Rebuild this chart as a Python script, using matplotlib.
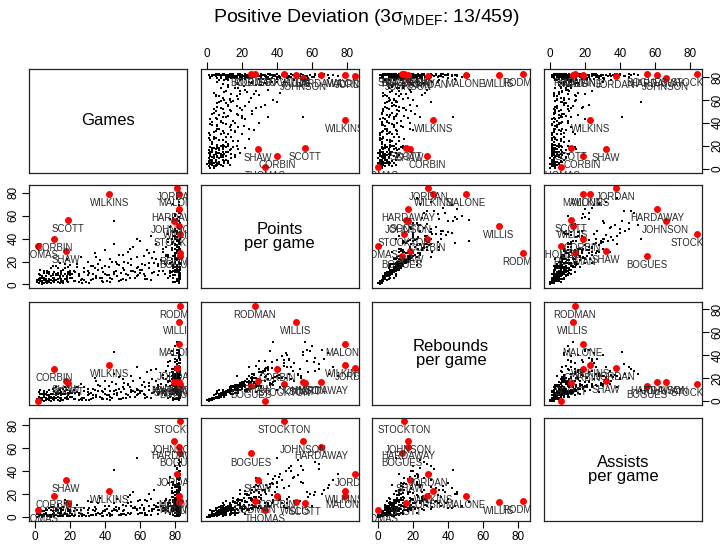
import matplotlib
matplotlib.use("Agg")
import matplotlib.pyplot as plt
from matplotlib.transforms import offset_copy

plt.rcParams['font.family'] = ['Liberation Sans', 'DejaVu Sans']
plt.rcParams['mathtext.fontset'] = 'custom'
plt.rcParams['mathtext.rm'] = 'Liberation Sans'
plt.rcParams['mathtext.it'] = 'Liberation Sans:italic'

var_names = ['Games', 'Points\nper game', 'Rebounds\nper game', 'Assists\nper game']
ticks = [0, 20, 40, 60, 80]

# regular players (black dots), one entry per player in each list
games = [1, 2, 2, 3, 3, 4, 4, 5, 5, 6,
         6, 7, 7, 8, 8, 9, 9, 10, 10, 11,
         11, 12, 12, 13, 13, 14, 14, 15, 15, 16,
         16, 17, 17, 18, 18, 19, 19, 20, 20, 1,
         2, 3, 4, 5, 6, 7, 8, 9, 10, 12,
         13, 14, 15, 16, 17, 18, 19, 20, 3, 5,
         7, 9, 11, 13, 15, 17, 19, 4, 8, 12,
         6, 10, 14, 18, 2, 4, 11, 16, 20, 15,
         21, 22, 23, 24, 25, 26, 27, 28, 29, 30,
         31, 32, 33, 34, 35, 36, 37, 38, 39, 40,
         41, 42, 43, 44, 45, 46, 47, 48, 49, 50,
         51, 52, 53, 54, 55, 56, 57, 58, 59, 60,
         61, 62, 63, 64, 65, 66, 67, 68, 69, 70,
         22, 25, 28, 31, 34, 37, 40, 43, 46, 49,
         52, 55, 58, 61, 64, 67, 70, 24, 27, 30,
         33, 36, 39, 42, 45, 48, 51, 54, 57, 60,
         63, 66, 69, 21, 26, 32, 38, 44, 50, 56,
         62, 65, 68, 35, 41, 47, 53, 59, 58, 45,
         82, 81, 80, 79, 83, 82, 78, 77, 81, 80,
         82, 83, 76, 75, 82, 81, 80, 79, 78, 82,
         83, 82, 81, 80, 79, 78, 77, 76, 74, 73,
         72, 71, 82, 81, 83, 80, 82, 79, 81, 82,
         80, 82, 83, 81, 78, 82, 80, 79, 83, 81,
         82, 81, 82, 80, 83, 77, 82, 81, 79, 82,
         83, 82, 81, 80, 82, 78, 76, 82, 81, 80,
         82, 83, 79, 81, 82, 77, 83, 80, 81, 82,
         74, 75, 76, 82, 83, 81, 80, 82, 78, 79,
         81, 82, 80, 83, 82, 81, 79, 82, 80, 83,
         70, 73, 77, 81, 82, 83, 80, 79, 82, 81,
         82, 80, 81, 83, 78, 82, 81, 80, 82, 79,
         83, 82, 81, 80, 82, 83, 78, 81, 82, 80,
         82, 81, 83, 80, 79, 82, 81, 83, 82, 80,
         75, 77, 79, 81, 83, 76, 78, 80, 82, 83,
         82, 81, 83, 80, 82, 81, 83, 82, 80, 81,
         83, 82, 80, 81, 82, 79, 83, 81, 82, 80,
         81, 82, 83, 80, 82, 81, 79, 83, 82, 81,
         3, 8, 13, 18, 23, 28, 33, 38, 43, 48,
         53, 58, 63, 68, 73, 76, 5, 10, 15, 20,
         25, 30, 35, 40, 45, 50, 55, 60, 65, 70]
points = [2, 5, 1, 8, 3, 0, 6, 4, 10, 2,
          7, 3, 12, 5, 9, 1, 14, 6, 3, 11,
          4, 8, 16, 2, 10, 6, 19, 3, 12, 7,
          13, 5, 9, 22, 4, 11, 15, 8, 6, 4,
          9, 6, 3, 12, 5, 10, 2, 7, 16, 4,
          14, 1, 9, 3, 18, 7, 2, 12, 13, 1,
          1, 4, 2, 5, 5, 14, 9, 7, 11, 9,
          3, 8, 7, 3, 4, 2, 6, 1, 17, 11,
          6, 12, 3, 18, 9, 24, 5, 14, 2, 20,
          10, 4, 16, 27, 7, 13, 21, 3, 11, 30,
          8, 15, 22, 5, 35, 12, 18, 26, 4, 14,
          20, 9, 28, 6, 17, 33, 11, 24, 15, 38,
          13, 25, 7, 30, 19, 42, 10, 28, 22, 16,
          3, 7, 11, 1, 14, 6, 9, 2, 20, 10,
          4, 12, 7, 18, 5, 23, 8, 15, 1, 8,
          5, 18, 2, 8, 11, 3, 13, 31, 6, 10,
          17, 4, 35, 9, 4, 16, 6, 20, 26, 12,
          9, 14, 11, 24, 3, 7, 19, 8, 40, 55,
          45, 30, 12, 58, 22, 8, 36, 50, 17, 27,
          62, 15, 40, 25, 33, 5, 48, 70, 20, 38,
          10, 55, 28, 42, 14, 35, 7, 24, 18, 31,
          21, 12, 66, 3, 44, 26, 52, 16, 39, 9,
          60, 29, 19, 47, 11, 72, 23, 37, 6, 53,
          32, 64, 13, 41, 25, 57, 4, 34, 46, 18,
          40, 22, 75, 15, 49, 30, 44, 8, 27, 35,
          20, 54, 2, 28, 43, 12, 67, 31, 16, 59,
          9, 26, 37, 24, 14, 41, 11, 50, 22, 6,
          45, 36, 19, 62, 7, 33, 54, 28, 13, 48,
          16, 28, 10, 56, 39, 18, 23, 42, 3, 30,
          25, 47, 14, 35, 32, 64, 21, 8, 43, 17,
          52, 11, 38, 26, 69, 5, 30, 44, 19, 34,
          15, 57, 27, 40, 12, 23, 47, 9, 31, 61,
          33, 19, 25, 13, 46, 6, 40, 22, 37, 28,
          4, 11, 7, 19, 26, 15, 9, 33, 2, 21,
          13, 6, 24, 17, 29, 8, 36, 3, 12, 20,
          38, 18, 5, 27, 10, 23, 14, 31, 1, 46,
          5, 3, 8, 6, 11, 4, 9, 14, 6, 17,
          8, 14, 5, 19, 12, 26, 6, 9, 2, 10,
          2, 12, 6, 16, 9, 5, 22, 13, 27, 18]
rebounds = [1, 4, 0, 6, 2, 1, 3, 5, 7, 1,
            3, 2, 8, 4, 10, 0, 6, 3, 2, 9,
            2, 5, 12, 1, 4, 7, 10, 2, 8, 6,
            11, 3, 6, 14, 2, 5, 13, 4, 9, 2,
            8, 3, 2, 9, 6, 5, 1, 4, 11, 3,
            6, 0, 7, 1, 9, 10, 2, 8, 10, 0,
            2, 3, 1, 4, 3, 12, 7, 6, 5, 7,
            2, 6, 3, 3, 2, 2, 4, 1, 14, 5,
            4, 10, 2, 8, 7, 15, 3, 12, 1, 11,
            6, 2, 11, 20, 5, 9, 13, 2, 8, 18,
            5, 13, 9, 3, 24, 10, 7, 21, 2, 12,
            16, 6, 14, 4, 22, 18, 8, 30, 10, 20,
            9, 17, 5, 25, 13, 27, 7, 12, 18, 14,
            2, 5, 9, 1, 10, 4, 6, 1, 15, 8,
            3, 8, 5, 14, 4, 19, 6, 12, 1, 5,
            3, 14, 2, 5, 9, 2, 11, 12, 4, 7,
            12, 3, 28, 7, 2, 7, 3, 17, 19, 9,
            6, 10, 8, 18, 2, 5, 15, 6, 10, 43,
            20, 35, 8, 25, 12, 5, 44, 18, 10, 16,
            38, 9, 22, 14, 28, 3, 30, 24, 14, 52,
            7, 40, 20, 12, 11, 19, 4, 17, 9, 23,
            15, 8, 45, 2, 33, 21, 24, 10, 18, 6,
            48, 13, 16, 36, 6, 30, 11, 15, 4, 28,
            26, 32, 7, 20, 15, 35, 3, 29, 40, 11,
            36, 18, 22, 12, 26, 14, 31, 5, 24, 27,
            17, 20, 1, 8, 39, 9, 37, 18, 14, 44,
            5, 19, 34, 22, 13, 23, 9, 33, 10, 3,
            42, 16, 14, 26, 4, 35, 22, 31, 8, 19,
            11, 20, 6, 52, 21, 10, 19, 28, 2, 25,
            12, 37, 11, 30, 25, 28, 16, 7, 20, 13,
            23, 8, 17, 24, 42, 4, 28, 36, 15, 22,
            10, 45, 23, 30, 9, 17, 24, 6, 13, 34,
            26, 13, 20, 12, 40, 3, 22, 18, 29, 15,
            3, 9, 5, 15, 13, 6, 8, 21, 2, 17,
            10, 4, 11, 7, 19, 6, 14, 2, 9, 12,
            14, 12, 3, 17, 6, 9, 13, 25, 1, 30,
            3, 2, 6, 4, 7, 3, 5, 9, 4, 11,
            5, 11, 3, 12, 8, 18, 4, 6, 1, 7,
            1, 8, 4, 11, 6, 3, 10, 9, 16, 12]
assists = [0, 2, 1, 3, 4, 0, 5, 1, 2, 6,
           4, 1, 6, 8, 2, 0, 9, 3, 5, 4,
           3, 7, 2, 1, 11, 4, 8, 2, 5, 9,
           6, 4, 12, 3, 2, 14, 7, 10, 1, 3,
           1, 3, 2, 5, 7, 2, 1, 6, 3, 5,
           10, 1, 3, 2, 15, 2, 1, 5, 2, 2,
           1, 2, 1, 6, 4, 3, 5, 2, 8, 2,
           3, 9, 2, 1, 3, 1, 3, 1, 4, 7,
           3, 5, 2, 11, 4, 6, 3, 8, 1, 14,
           8, 2, 6, 9, 3, 12, 17, 1, 5, 10,
           7, 4, 20, 2, 12, 6, 16, 8, 3, 5,
           6, 10, 18, 3, 4, 22, 9, 7, 14, 15,
           11, 8, 4, 14, 20, 16, 5, 24, 9, 12,
           1, 4, 2, 1, 5, 3, 6, 1, 9, 2,
           2, 10, 6, 4, 2, 7, 3, 6, 1, 4,
           2, 4, 1, 10, 6, 2, 3, 19, 8, 4,
           15, 2, 10, 2, 3, 13, 4, 5, 11, 8,
           6, 5, 7, 7, 2, 5, 12, 3, 52, 41,
           40, 12, 6, 18, 20, 4, 10, 35, 12, 9,
           22, 8, 30, 15, 10, 2, 45, 28, 5, 13,
           5, 30, 16, 38, 7, 25, 3, 11, 14, 8,
           10, 6, 20, 1, 25, 7, 50, 13, 22, 3,
           10, 27, 9, 18, 8, 32, 19, 30, 2, 14,
           24, 42, 11, 15, 17, 12, 2, 20, 8, 16,
           18, 14, 38, 13, 34, 21, 9, 6, 26, 11,
           7, 45, 2, 28, 12, 10, 24, 17, 4, 20,
           8, 16, 12, 19, 11, 35, 7, 14, 23, 5,
           8, 29, 10, 48, 3, 24, 31, 9, 12, 40,
           9, 12, 4, 13, 36, 15, 6, 18, 1, 22,
           21, 27, 8, 38, 7, 46, 11, 4, 32, 15,
           37, 6, 33, 14, 25, 4, 18, 10, 24, 28,
           13, 22, 18, 26, 9, 20, 43, 7, 30, 19,
           6, 15, 21, 11, 16, 5, 31, 8, 19, 34,
           2, 5, 3, 9, 24, 17, 6, 12, 1, 7,
           9, 3, 17, 12, 8, 5, 26, 2, 6, 15,
           29, 11, 4, 22, 5, 13, 10, 16, 1, 12,
           2, 1, 4, 3, 8, 2, 6, 4, 3, 7,
           4, 6, 2, 11, 5, 8, 3, 5, 1, 6,
           1, 6, 2, 5, 7, 3, 13, 8, 10, 6]

# flagged players (red dots with names)
out_names = ['WILKINS', 'JORDAN', 'MALONE', 'HARDAWAY', 'JOHNSON', 'STOCKTON', 'SCOTT',
             'CORBIN', 'THOMAS', 'SHAW', 'RODMAN', 'WILLIS', 'BOGUES']
out_games = [42.5, 81, 82, 82, 79.5, 83, 18.5, 11, 1.5, 17.5, 83, 82, 83]
out_points = [79, 84.5, 79, 65.5, 55, 44, 56, 40, 33.5, 29, 27.5, 51, 25]
out_rebounds = [31.5, 28.7, 50, 17, 17, 15, 16, 28, 0, 18, 83, 69, 13.5]
out_assists = [23, 37.5, 18.5, 61, 66, 84, 12, 18.5, 6, 32, 14, 13, 55.5]

cols = [games, points, rebounds, assists]
out_cols = [out_games, out_points, out_rebounds, out_assists]

W, H = 726, 550
col_left = [29.3, 201, 372.3, 544.3]
row_top = [69.3, 185, 301.7, 417.7]
pw, ph = 157.5, 103.3
lim = (-3.35, 86.7)

fig = plt.figure(figsize=(7.26, 5.5), dpi=100)

for i in range(4):
    for j in range(4):
        ax = fig.add_axes([col_left[j] / W, 1 - (row_top[i] + ph) / H, pw / W, ph / H])
        ax.set_xlim(lim)
        ax.set_ylim(lim)
        ax.set_xticks(ticks)
        ax.set_yticks(ticks)
        for s in ax.spines.values():
            s.set_linewidth(0.9)
            s.set_color('#222222')
        ax.tick_params(direction='out', length=5, width=0.8, labelsize=8.5, pad=2,
                       top=False, bottom=False, left=False, right=False,
                       labeltop=False, labelbottom=False, labelleft=False, labelright=False)
        ax.tick_params(axis='y', labelrotation=90)
        if i == 0 and j % 2 == 1:
            ax.tick_params(top=True, labeltop=True)
        if i == 3 and j % 2 == 0:
            ax.tick_params(bottom=True, labelbottom=True)
        if j == 0 and i % 2 == 1:
            ax.tick_params(left=True, labelleft=True)
        if j == 3 and i % 2 == 0:
            ax.tick_params(right=True, labelright=True)
        for lab in ax.get_yticklabels():
            lab.set_va('center')

        if i == j:
            ax.text(0.5, 0.5, var_names[i], transform=ax.transAxes, ha='center', va='center',
                    fontsize=12, linespacing=0.95)
            continue

        ax.plot(cols[j], cols[i], 's', color='black', markersize=1.6, markeredgewidth=0)
        ax.plot(out_cols[j], out_cols[i], 'o', color='#ff0000', markersize=5, markeredgewidth=0)
        trans = offset_copy(ax.transData, fig=fig, y=-6.5, units='points')
        for k, name in enumerate(out_names):
            ax.text(out_cols[j][k], out_cols[i][k], name, transform=trans, ha='center', va='center',
                    fontsize=6.9, color='#2a2a2a', clip_on=True)

fig.text(0.504, 1 - 18 / H, r'Positive Deviation (3$\mathrm{\sigma_{MDEF}}$: 13/459)',
         ha='center', va='center', fontsize=14)

fig.savefig('out.png', dpi=100)
